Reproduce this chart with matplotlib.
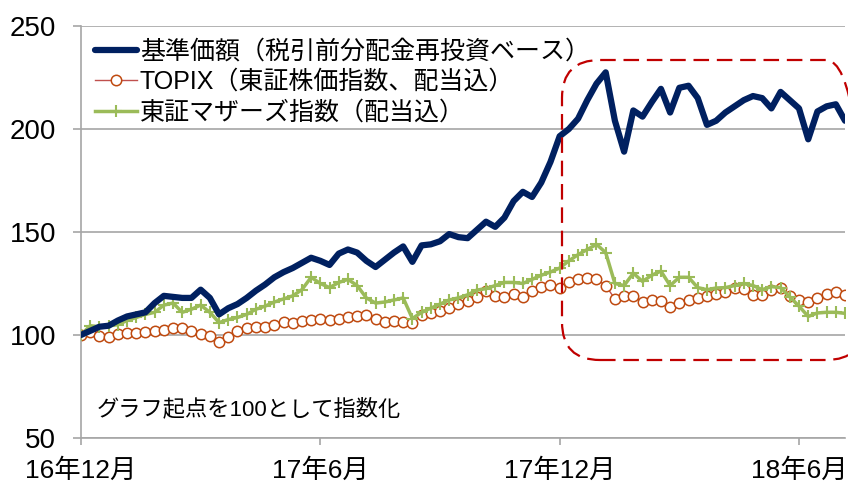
import matplotlib
matplotlib.use("Agg")
import matplotlib.pyplot as plt
from matplotlib.patches import FancyBboxPatch
from matplotlib.transforms import IdentityTransform
import pandas as pd

plt.rcParams['font.family'] = ['Liberation Sans', 'Noto Sans CJK JP', 'DejaVu Sans']

# weekly points, index = 100 at start
dates = pd.date_range("2016-12-30", periods=84, freq="7D")

fund = [100, 102, 104, 104.5, 107, 109, 110, 111, 115.5, 119,
        118.5, 118, 118, 122, 118, 110, 113, 115, 118, 121.5,
        124.5, 128, 130.5, 132.5, 135, 137.5, 136, 134, 139.5, 141.5,
        140, 136, 133, 136.5, 140, 143, 135.5, 143.5, 144, 145.5,
        149, 147.5, 147, 151, 155, 152.5, 157, 165, 169.5, 167,
        174, 184, 196.5, 200, 205, 214, 222, 227.5, 204, 189,
        209, 206, 213, 219.5, 208, 220, 221, 215, 202, 204,
        208, 211, 214, 216, 215, 210, 218, 214, 210, 195,
        208.5, 211, 212, 204]

topix = [100, 101.5, 99.5, 99, 100.5, 101, 101, 101.5, 102, 102.5,
         103.4, 103.5, 102, 100.5, 99.5, 96.8, 99, 102, 103.5, 104,
         104, 105, 106.2, 106, 107, 107.5, 108, 107.3, 108, 108.7,
         109, 109.5, 108, 106.5, 107, 106.5, 106, 109.5, 110.5, 111.5,
         113, 115, 116.5, 118.5, 121.5, 119, 118.5, 120, 118.5, 121.5,
         123.5, 124.3, 123, 125.5, 127, 127.5, 127, 124, 117.5, 119,
         119, 116, 117, 116.5, 113.5, 115.5, 117, 118, 119, 120,
         121, 123, 122.5, 119.5, 119.5, 122, 123, 119, 117, 116,
         118, 120, 121, 119.4]

mothers = [100, 104.5, 104, 104.5, 105, 107, 108.5, 110, 111, 114.5,
           115.5, 111, 112.5, 114.5, 111, 106, 107.5, 108.5, 110, 112.5,
           114, 116, 117.5, 119, 122, 128, 125, 123, 125.5, 127,
           124, 118, 115.5, 116, 117, 118, 108, 111, 113, 115,
           117, 118, 119.5, 121.8, 122.5, 124, 125.5, 125.5, 125, 127,
           129, 130.6, 132.5, 136, 139, 141.5, 144, 140, 125, 124,
           130, 126, 129, 131, 124, 128, 128, 123, 122, 122.8,
           123, 124, 125, 124, 122, 123.5, 123, 118.5, 114, 109,
           110.7, 111, 111, 110.5]

labels = ["基準価額（税引前分配金再投資ベース）",
          "TOPIX（東証株価指数、配当込）",
          "東証マザーズ指数（配当込）"]
tick_dates = pd.to_datetime(["2016-12-30", "2017-06-30", "2017-12-29", "2018-06-29"])
tick_labels = ["16年12月", "17年6月", "17年12月", "18年6月"]

fig = plt.figure(figsize=(8.48, 4.86), dpi=100)
ax = fig.add_axes([0.0955, 0.0988, 0.901, 0.8477])

l2, = ax.plot(dates, topix, color='#C0504D', lw=1, marker='o', ms=7.5,
              mfc='white', mec='#BF4A10', mew=1.1, zorder=2)
l3, = ax.plot(dates, mothers, color='#9BBB59', lw=2.5, marker='+', ms=8,
              mec='#9BBB59', mew=1.5, zorder=3)
l1, = ax.plot(dates, fund, color='#002060', lw=4.5, solid_capstyle='round',
              solid_joinstyle='round', zorder=4)

ax.set_ylim(50, 250)
ax.set_yticks([50, 100, 150, 200, 250])
ax.set_xlim(dates[0], dates[-1])
ax.set_xticks(tick_dates)
ax.set_xticklabels(tick_labels)
ax.yaxis.grid(True, color='#A6A6A6', lw=1.2)
ax.set_axisbelow(True)
for s in ['top', 'right']:
    ax.spines[s].set_visible(False)
for s in ['left', 'bottom']:
    ax.spines[s].set_color('#A6A6A6')
    ax.spines[s].set_linewidth(1.2)
ax.tick_params(axis='y', length=6, width=1.2, color='#A6A6A6', pad=12, labelsize=20)
ax.tick_params(axis='x', length=5, width=1.2, color='#A6A6A6', pad=10, labelsize=19)

leg = ax.legend([l1, l2, l3], labels, loc='upper left', bbox_to_anchor=(0.0, 1.0),
                frameon=False, fontsize=18, handlelength=1.7, handletextpad=0.1,
                labelspacing=0.25, borderaxespad=0.15)

ax.text(0.021, 0.07, "グラフ起点を100として指数化", transform=ax.transAxes,
        fontsize=16, ha='left', va='center')

# red dashed rounded frame around the recent period (pixel coords)
box = FancyBboxPatch((562, 126), 302, 300, boxstyle="round,pad=0,rounding_size=38",
                     transform=IdentityTransform(), fill=False, ec='#C00000',
                     lw=1.6, ls=(0, (7, 3.5)))
fig.add_artist(box)

fig.savefig("out.png", dpi=100)
